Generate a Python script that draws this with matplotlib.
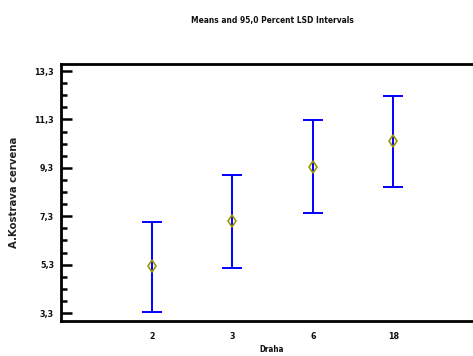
import matplotlib
matplotlib.use("Agg")
import matplotlib.pyplot as plt
from matplotlib.ticker import FixedLocator, FuncFormatter
import numpy as np

categories = ["2", "3", "6", "18"]
means = [5.24, 7.10, 9.35, 10.42]
lower = [3.35, 5.17, 7.44, 8.52]
upper = [7.07, 9.00, 11.28, 12.28]
yticks = [3.3, 5.3, 7.3, 9.3, 11.3, 13.3]

fig = plt.figure(figsize=(4.73, 3.56), dpi=100)
ax = fig.add_axes([61/473, 35/356, 1.0 - 61/473 + 0.01, (321-64)/356])

x = np.arange(1, len(categories) + 1)
m = np.array(means)
yerr = [m - np.array(lower), np.array(upper) - m]
ax.errorbar(x, m, yerr=yerr, fmt='none', ecolor='#0000ff', elinewidth=1.4,
            capsize=7.5, capthick=1.4, zorder=2)
ax.plot(x, m, linestyle='none', marker='d', markersize=6.5, markerfacecolor='none',
        markeredgecolor='#9a9a00', markeredgewidth=1.2, zorder=3)

ax.set_xlim(-0.13, 5.05)
ax.set_ylim(2.97, 13.59)
ax.set_xticks(x)
ax.set_xticklabels(categories)
ax.yaxis.set_major_locator(FixedLocator(yticks))
ax.yaxis.set_minor_locator(FixedLocator(np.arange(3.8, 13.3, 0.5)))
ax.yaxis.set_major_formatter(FuncFormatter(lambda v, p: f"{v:.1f}".replace('.', ',')))

for s in ['top', 'bottom', 'left']:
    ax.spines[s].set_linewidth(2)
ax.spines['right'].set_visible(False)

ax.tick_params(axis='x', length=0, pad=8)
ax.tick_params(axis='y', which='major', direction='in', length=8, width=1.8, pad=5)
ax.tick_params(axis='y', which='minor', direction='in', length=4, width=1.8)
for lab in ax.get_xticklabels() + ax.get_yticklabels():
    lab.set_fontfamily('DejaVu Sans')
    lab.set_fontstretch('condensed')
    lab.set_fontweight('bold')
    lab.set_fontsize(6.4)
    lab.set_color('#111111')

fig.text(272/473, 1 - 20/356, "Means and 95,0 Percent LSD Intervals", ha='center', va='center',
         fontsize=6, fontweight='bold', family='DejaVu Sans', fontstretch='condensed', color='#111111')
fig.text(272/473, 1 - 349/356, "Draha", ha='center', va='center',
         fontsize=5.8, fontweight='bold', family='DejaVu Sans', fontstretch='condensed', color='#111111')
fig.text(14/473, 1 - 192/356, "A.Kostrava cervena", ha='center', va='center', rotation=90,
         fontsize=7.3, fontweight='bold', family='DejaVu Sans', color='#222222')

fig.savefig("out.png", dpi=100)
